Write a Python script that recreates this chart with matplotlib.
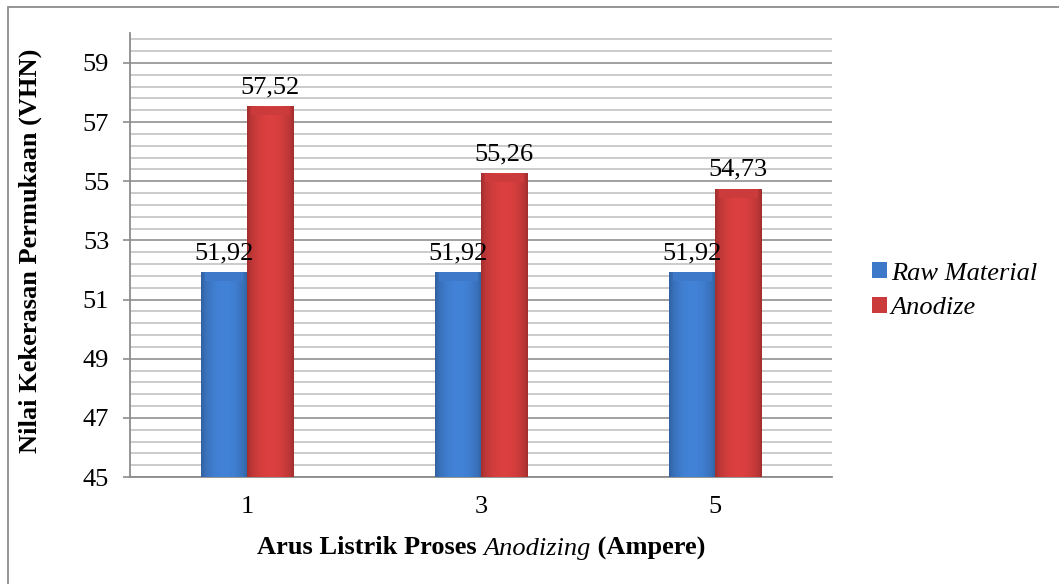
import numpy as np
import matplotlib.pyplot as plt
from matplotlib.colors import to_rgb
from matplotlib.patches import Rectangle

categories = ["1", "3", "5"]
raw_material = [51.92, 51.92, 51.92]
anodize = [57.52, 55.26, 54.73]
series_names = ["Raw Material", "Anodize"]
series_colors = ["#3d79c8", "#cc3b3b"]

plt.rcParams['font.family'] = ['Liberation Serif', 'DejaVu Serif']
FS = 19

fig = plt.figure(figsize=(10.59, 5.84), dpi=100)
ax = fig.add_axes([0.1228, 0.1832, 0.6632, 0.7596])

# outer chart frame
fig.patches.append(Rectangle((0.0075, -0.02), 1.1, 1.008, transform=fig.transFigure,
                             fill=False, edgecolor='#8c8c8c', linewidth=1.3))

ymin, ymax = 45, 60
ax.set_ylim(ymin, ymax)
ax.set_xlim(-0.5, len(categories) - 0.5)

# gridlines
for v in np.arange(ymin, ymax, 0.4):
    ax.axhline(v, color='#bdbdbd', linewidth=1.1, zorder=0)
for v in range(ymin, 60, 2):
    ax.axhline(v, color='#9a9a9a', linewidth=1.2, zorder=0)

x = np.arange(len(categories))
width = 0.197


def shade(color, n=60):
    # darker edges, lighter middle, like Excel's rounded bevel
    base = np.array(to_rgb(color))
    t = np.linspace(0, 1, n)
    f = 0.78 + 0.3 * np.sin(np.pi * t) ** 0.6
    return np.clip(base[None, :] * f[:, None], 0, 1)[None, :, :]


for i, (vals, name, col) in enumerate(zip([raw_material, anodize], series_names, series_colors)):
    offs = x + (i - 0.5) * width
    bars = ax.bar(offs, vals, width, bottom=0, color=col, label=name, zorder=2, linewidth=0)
    for b, v in zip(bars, vals):
        x0 = b.get_x()
        ax.imshow(shade(col), extent=(x0, x0 + width, ymin, v), aspect='auto', zorder=3,
                  interpolation='bicubic')
        # top bevel highlight
        ax.add_patch(Rectangle((x0 + width * 0.08, v - 0.28), width * 0.84, 0.28,
                               color=col, alpha=1, zorder=4, linewidth=0))
        ax.annotate(f"{v:.2f}".replace('.', ','), (x0 + width / 2, v), xytext=(0, 6),
                    textcoords='offset points', ha='center', va='bottom', fontsize=FS, zorder=5)

ax.set_xticks(x)
ax.set_xticklabels(categories, fontsize=FS)
ax.set_yticks(range(ymin, 60, 2))
ax.set_yticklabels([str(v) for v in range(ymin, 60, 2)], fontsize=FS)
ax.tick_params(axis='y', length=5, width=1.2, color='#8c8c8c', pad=10)
ax.tick_params(axis='x', length=0, pad=14)

for s in ['top', 'right']:
    ax.spines[s].set_visible(False)
ax.spines['left'].set_color('#8c8c8c')
ax.spines['bottom'].set_color('#8c8c8c')
ax.spines['left'].set_linewidth(1.3)
ax.spines['bottom'].set_linewidth(1.3)

fig.text(30 / 1059, 1 - 251 / 584, "Nilai Kekerasan Permukaan (VHN)", fontsize=FS,
         fontweight='bold', rotation=90, ha='center', va='center')

# x label with italic word in the middle
t1 = fig.text(0, 1 - 548 / 584, "Arus Listrik Proses ", fontsize=FS, fontweight='bold', va='center')
t2 = ax.annotate("Anodizing", xy=(1, 0), xycoords=t1, va='bottom', fontsize=FS,
                 fontstyle='italic')
t3 = ax.annotate(" (Ampere)", xy=(1, 0), xycoords=t2, va='bottom', fontsize=FS,
                 fontweight='bold')
fig.canvas.draw()
r = fig.canvas.get_renderer()
x_start = t1.get_window_extent(r).x0
x_end = t3.get_window_extent(r).x1
t1.set_x((481 - (x_end - x_start) / 2) / 1059)

leg = ax.legend(loc='center left', bbox_to_anchor=(1.042, 0.42), frameon=False,
                borderaxespad=0, prop={'style': 'italic', 'size': FS},
                handlelength=0.55, handleheight=0.55, handletextpad=0.15, labelspacing=0.45)

fig.savefig("out.png", dpi=100)
